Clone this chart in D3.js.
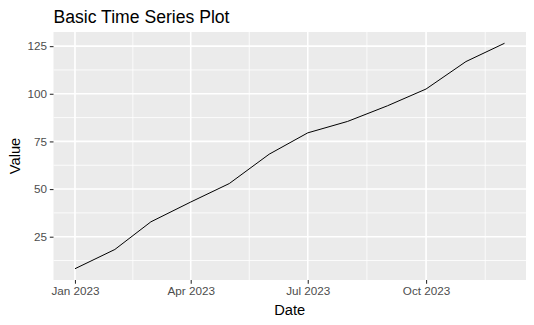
<!DOCTYPE html>
<html>
<head>
<meta charset="utf-8">
<script src="https://cdn.jsdelivr.net/npm/d3@7"></script>
<style>
    body { margin: 0; background: #fff; }
    text { font-family: "Liberation Sans", Arial, sans-serif; }
</style>
</head>
<body>
<svg id="chart"></svg>
<script>
// monthly observations (first day of each month, 2023)
let dates = ['2023-01-01', '2023-02-01', '2023-03-01', '2023-04-01', '2023-05-01', '2023-06-01',
    '2023-07-01', '2023-08-01', '2023-09-01', '2023-10-01', '2023-11-01', '2023-12-01'];
let values = [8.2, 18.3, 32.8, 43.2, 52.9, 68.3, 79.5, 85.5, 93.7, 102.5, 116.9, 126.5];
let xTicks = ['2023-01-01', '2023-04-01', '2023-07-01', '2023-10-01'];
let xTickLabels = ['Jan 2023', 'Apr 2023', 'Jul 2023', 'Oct 2023'];
let yTicks = [25, 50, 75, 100, 125];

let width = 534;
let height = 325;
let margin = {top: 32, right: 8, bot: 45, left: 53.5};
let config = {
    width: width - margin.left - margin.right,
    height: height - margin.top - margin.bot,
    margin: margin
};

let parse = d3.utcParse('%Y-%m-%d');
let data = dates.map((d, i) => ({date: parse(d), value: values[i]}));

// ggplot style 5% expansion on both axes
let xExt = d3.extent(data, d => +d.date);
let xPad = (xExt[1] - xExt[0]) * 0.05;
let yExt = d3.extent(values);
let yPad = (yExt[1] - yExt[0]) * 0.05;

let xScale = d3.scaleUtc()
    .domain([new Date(xExt[0] - xPad), new Date(xExt[1] + xPad)])
    .range([0, config.width]);
let yScale = d3.scaleLinear()
    .domain([yExt[0] - yPad, yExt[1] + yPad])
    .range([config.height, 0]);

let svg = d3.select('#chart')
    .attr('width', width)
    .attr('height', height);

let panel = svg.append('g')
    .attr('transform', `translate(${margin.left},${margin.top})`);

panel.append('rect')
    .attr('width', config.width)
    .attr('height', config.height)
    .attr('fill', '#EBEBEB');

// minor breaks sit halfway between major breaks
let majorX = xTicks.map(parse);
let allMajorX = [d3.utcMonth.offset(majorX[0], -3)].concat(majorX, [d3.utcMonth.offset(majorX[majorX.length - 1], 3)]);
let minorX = d3.pairs(allMajorX).map(p => new Date((+p[0] + +p[1]) / 2))
    .filter(d => xScale(d) >= 0 && xScale(d) <= config.width);
let allMajorY = [0].concat(yTicks, [150]);
let minorY = d3.pairs(allMajorY).map(p => (p[0] + p[1]) / 2)
    .filter(d => yScale(d) >= 0 && yScale(d) <= config.height);

let grid = panel.append('g').attr('stroke', '#fff');
grid.selectAll('.minor-y').data(minorY).enter().append('line')
    .attr('x1', 0).attr('x2', config.width)
    .attr('y1', d => yScale(d)).attr('y2', d => yScale(d))
    .attr('stroke-width', 0.8);
grid.selectAll('.minor-x').data(minorX).enter().append('line')
    .attr('x1', d => xScale(d)).attr('x2', d => xScale(d))
    .attr('y1', 0).attr('y2', config.height)
    .attr('stroke-width', 0.8);
grid.selectAll('.major-y').data(yTicks).enter().append('line')
    .attr('x1', 0).attr('x2', config.width)
    .attr('y1', d => yScale(d)).attr('y2', d => yScale(d))
    .attr('stroke-width', 1.6);
grid.selectAll('.major-x').data(majorX).enter().append('line')
    .attr('x1', d => xScale(d)).attr('x2', d => xScale(d))
    .attr('y1', 0).attr('y2', config.height)
    .attr('stroke-width', 1.6);

let line = d3.line()
    .x(d => xScale(d.date))
    .y(d => yScale(d.value));
panel.append('path')
    .datum(data)
    .attr('d', line)
    .attr('fill', 'none')
    .attr('stroke', '#000')
    .attr('stroke-width', 1);

// axes
let xAx = d3.axisBottom(xScale)
    .tickValues(majorX)
    .tickSize(3.7)
    .tickPadding(2.9)
    .tickFormat((d, i) => xTickLabels[i]);
let yAx = d3.axisLeft(yScale)
    .tickValues(yTicks)
    .tickSize(3.7)
    .tickPadding(2.9);

let xAxGroup = panel.append('g')
    .attr('transform', `translate(0,${config.height})`)
    .call(xAx);
let yAxGroup = panel.append('g').call(yAx);

[xAxGroup, yAxGroup].forEach(g => {
    g.select('.domain').remove();
    g.selectAll('.tick line').attr('stroke', '#333333').attr('stroke-width', 1.1);
    g.selectAll('.tick text')
        .attr('fill', '#4D4D4D')
        .style('font-size', '11.7px')
        .style('font-family', '"Liberation Sans", Arial, sans-serif');
});

// titles
svg.append('text')
    .attr('x', margin.left)
    .attr('y', 23)
    .style('font-size', '17.6px')
    .attr('fill', '#000')
    .text('Basic Time Series Plot');

svg.append('text')
    .attr('x', margin.left + config.width / 2)
    .attr('y', 315)
    .attr('text-anchor', 'middle')
    .style('font-size', '14.7px')
    .attr('fill', '#000')
    .text('Date');

svg.append('text')
    .attr('transform', `translate(20,${margin.top + config.height / 2}) rotate(-90)`)
    .attr('text-anchor', 'middle')
    .style('font-size', '14.7px')
    .attr('fill', '#000')
    .text('Value');
</script>
</body>
</html>
